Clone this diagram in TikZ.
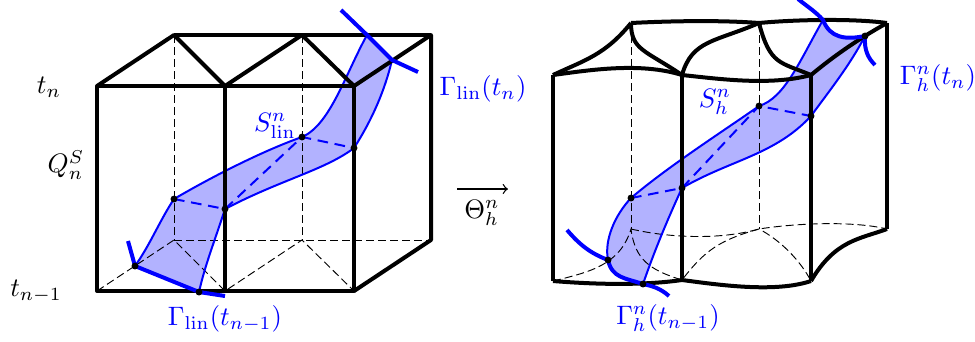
\documentclass[tikz,border=0pt]{standalone}
\usepackage{xcolor}
\usepackage{amsmath}
\usetikzlibrary{calc}
\definecolor{myblue}{RGB}{0,0,255}
\definecolor{hdrblue}{RGB}{178,178,255}
\tikzset{
  edge/.style={line width=1.5pt, color=black, line join=round},
  back/.style={dash pattern=on 3pt off 1.5pt, line width=0.35pt, color=black},
  surf/.style={fill=hdrblue, draw=none},
  rim/.style={line width=0.75pt, color=myblue},
  gam/.style={line width=1.5pt, color=myblue},
  cut/.style={line width=0.75pt, color=myblue, dash pattern=on 4pt off 2.5pt},
  dotnode/.style={circle, fill=black, inner sep=0pt, minimum size=2.6pt},
  lab/.style={font=\normalsize, color=black},
  bluelab/.style={font=\normalsize, color=myblue}
}

\begin{document}
\begin{tikzpicture}[x=0.375pt, y=-0.375pt]
  \useasboundingbox (0,0) rectangle (975,341);

  % Left prism corners
  \coordinate (fb1) at (97,291);  \coordinate (fb2) at (225,291);  \coordinate (fb3) at (354,291);
  \coordinate (ft1) at (97,86);   \coordinate (ft2) at (225,86);   \coordinate (ft3) at (354,86);
  \coordinate (bt1) at (174,35);  \coordinate (bt2) at (302,35);   \coordinate (bt3) at (431,35);
  \coordinate (bb1) at (174,240); \coordinate (bb2) at (302,240);  \coordinate (bb3) at (431,240);

  % Left surface
  \coordinate (sa) at (135,266);  \coordinate (sb) at (199,292);
  \coordinate (sc) at (225,209);  \coordinate (sd) at (174,199);
  \coordinate (se) at (302,137);  \coordinate (sf) at (354,148);
  \coordinate (sg) at (367,35);   \coordinate (sh) at (392,60);
  \coordinate (ga) at (128,241);  \coordinate (gb) at (225,296);
  \coordinate (gc) at (341,10);   \coordinate (gd) at (418,72);

  \fill[surf] (sa) .. controls (150,245) and (160,220) .. (sd)
    .. controls (215,175) and (265,150) .. (se)
    .. controls (330,125) and (345,75) .. (sg) -- (sh)
    .. controls (385,90) and (372,120) .. (sf)
    .. controls (325,170) and (280,180) .. (sc)
    .. controls (215,240) and (205,265) .. (sb) -- cycle;

  % Hidden edges
  \draw[back] (bt1) -- (bb1);
  \draw[back] (bt2) -- (bb2);
  \draw[back] (bb1) -- (bb3);
  \draw[back] (fb1) -- (bb1) -- (fb2) -- (bb2) -- (fb3);

  % Surface rims
  \draw[rim] (sa) .. controls (150,245) and (160,220) .. (sd)
    .. controls (215,175) and (265,150) .. (se)
    .. controls (330,125) and (345,75) .. (sg);
  \draw[rim] (sb) .. controls (205,265) and (215,240) .. (sc)
    .. controls (280,180) and (325,170) .. (sf)
    .. controls (372,120) and (385,90) .. (sh);
  \draw[cut] (sd) -- (sc) -- (se) -- (sf);

  % Thick edges
  \draw[edge] (ft1) -- (ft3) -- (fb3) -- (fb1) -- cycle;
  \draw[edge] (ft2) -- (fb2);
  \draw[edge] (ft1) -- (bt1) -- (ft2) -- (bt2) -- (ft3) -- (bt3) -- (bb3) -- (fb3);
  \draw[edge] (bt1) -- (bt3);

  % Interface
  \draw[gam] (ga) -- (sa) -- (sb) -- (gb);
  \draw[gam] (gc) -- (sg) -- (sh) -- (gd);
  \foreach \p in {sa,sb,sc,sd,se,sf} \node[dotnode] at (\p) {};

  % Right prism corners
  \coordinate (pfb1) at (553,281); \coordinate (pfb2) at (682,280); \coordinate (pfb3) at (811,281);
  \coordinate (pft1) at (553,75);  \coordinate (pft2) at (682,75);  \coordinate (pft3) at (811,75);
  \coordinate (pbt1) at (631,23);  \coordinate (pbt2) at (759,23);  \coordinate (pbt3) at (887,23);
  \coordinate (pbb1) at (631,229); \coordinate (pbb2) at (759,229); \coordinate (pbb3) at (887,229);

  % Right surface
  \coordinate (ra) at (608,260);  \coordinate (rb) at (643,284);
  \coordinate (rc) at (682,188);  \coordinate (rd) at (631,198);
  \coordinate (re) at (759,106);  \coordinate (rf) at (811,116);
  \coordinate (rg) at (823,20);   \coordinate (rh) at (865,36);
  \coordinate (qa) at (567,230);  \coordinate (qb) at (669,296);
  \coordinate (qc) at (798,-1);   \coordinate (qd) at (875,65);

  \fill[surf] (ra) .. controls (604,240) and (615,215) .. (rd)
    .. controls (670,165) and (725,130) .. (re)
    .. controls (785,98) and (800,60) .. (rg)
    .. controls (830,38) and (845,40) .. (rh)
    .. controls (850,65) and (830,90) .. (rf)
    .. controls (775,155) and (730,160) .. (rc)
    .. controls (665,225) and (653,255) .. (rb)
    .. controls (625,278) and (612,278) .. (ra) -- cycle;

  % Hidden curved edges
  \draw[back] (pbt1) -- (pbb1);
  \draw[back] (pbt2) -- (pbb2);
  \draw[back] (pbb1) .. controls (670,238) and (720,240) .. (pbb2)
    .. controls (790,224) and (850,220) .. (pbb3);
  \draw[back] (pfb1) .. controls (590,272) and (620,265) .. (pbb1)
    .. controls (635,260) and (650,270) .. (pfb2)
    .. controls (705,250) and (720,240) .. (pbb2)
    .. controls (780,240) and (800,260) .. (pfb3);

  % Surface rims
  \draw[rim] (ra) .. controls (604,240) and (615,215) .. (rd)
    .. controls (670,165) and (725,130) .. (re)
    .. controls (785,98) and (800,60) .. (rg);
  \draw[rim] (rb) .. controls (653,255) and (665,225) .. (rc)
    .. controls (730,160) and (775,155) .. (rf)
    .. controls (830,90) and (850,65) .. (rh);
  \draw[cut] (rd) -- (rc) -- (re) -- (rf);

  % Thick curved edges
  \draw[edge] (pft1) .. controls (590,70) and (640,62) .. (pft2)
    .. controls (720,79) and (770,86) .. (pft3);
  \draw[edge] (pbt1) .. controls (670,21) and (720,20) .. (pbt2)
    .. controls (790,20) and (850,18) .. (pbt3);
  \draw[edge] (pfb1) .. controls (590,284) and (640,286) .. (pfb2)
    .. controls (720,285) and (775,293) .. (pfb3);
  \draw[edge] (pft1) .. controls (585,60) and (605,55) .. (pbt1);
  \draw[edge] (pbt1) .. controls (631,50) and (645,50) .. (pft2);
  \draw[edge] (pft2) .. controls (692,40) and (715,42) .. (pbt2);
  \draw[edge] (pbt2) .. controls (770,65) and (780,62) .. (pft3);
  \draw[edge] (pft3) .. controls (835,55) and (860,38) .. (pbt3);
  \draw[edge] (pft1) -- (pfb1);
  \draw[edge] (pft2) -- (pfb2);
  \draw[edge] (pft3) -- (pfb3);
  \draw[edge] (pbt3) -- (pbb3);
  \draw[edge] (pbb3) .. controls (860,239) and (835,240) .. (pfb3);

  % Interface
  \draw[gam] (qa) .. controls (580,245) and (590,253) .. (ra)
    .. controls (612,278) and (625,278) .. (rb)
    .. controls (652,286) and (660,288) .. (qb);
  \draw[gam] (qc) .. controls (808,7) and (816,12) .. (rg)
    .. controls (830,38) and (845,40) .. (rh)
    .. controls (864,50) and (868,58) .. (qd);
  \foreach \p in {ra,rb,rc,rd,re,rf,rh} \node[dotnode] at (\p) {};

  % Map arrow
  \coordinate (mapl) at (457,189);
  \coordinate (mapr) at (508,189);
  \draw[->, line width=0.5pt] (mapl) -- (mapr);
  \node[lab] (maplab) at (482,213) {$\Theta_h^n$};

  % Labels
  \node[lab] (tlabtop) at (49,87) {$t_n$};
  \node[lab] (qlab) at (66,165) {$Q_n^S$};
  \node[lab] (tlabbot) at (36,291) {$t_{n-1}$};
  \node[bluelab] (gamtop) at (483,89) {$\Gamma_{\mathrm{lin}}(t_n)$};
  \node[bluelab] (gambot) at (225,319) {$\Gamma_{\mathrm{lin}}(t_{n-1})$};
  \node[bluelab] (slin) at (275,126) {$S_{\mathrm{lin}}^n$};
  \node[bluelab] (shlab) at (715,102) {$S_h^n$};
  \node[bluelab] (gamhtop) at (938,78) {$\Gamma_h^n(t_n)$};
  \node[bluelab] (gamhbot) at (668,318) {$\Gamma_h^n(t_{n-1})$};
\end{tikzpicture}
\end{document}
